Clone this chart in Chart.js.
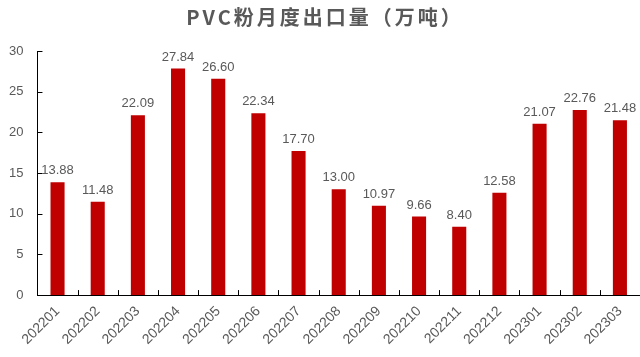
<!DOCTYPE html>
<html><head><meta charset="utf-8">
<script src="https://cdn.jsdelivr.net/npm/chart.js@4/dist/chart.umd.min.js"></script>
<style>html,body{margin:0;padding:0;background:#fff;}#wrap{width:640px;height:357px;}</style>
</head><body><div id="wrap"><canvas id="c" width="640" height="357"></canvas></div>
<script>
const categories = ["202201","202202","202203","202204","202205","202206","202207","202208","202209","202210","202211","202212","202301","202302","202303"];
const exportValues = [13.88,11.48,22.09,27.84,26.60,22.34,17.70,13.00,10.97,9.66,8.40,12.58,21.07,22.76,21.48];
const yTicks = [0,5,10,15,20,25,30];
const chartTitle = "PVC粉月度出口量（万吨）";

const innerTicks = {
  id:'innerTicks',
  afterDraw(chart){
    const ctx = chart.ctx, x = chart.scales.x, y = chart.scales.y;
    ctx.save();
    ctx.strokeStyle = '#000'; ctx.lineWidth = 1;
    ctx.beginPath();
    yTicks.forEach(v=>{ const py = Math.round(y.getPixelForValue(v))+0.5; ctx.moveTo(x.left, py); ctx.lineTo(x.left+5, py); });
    const half = (x.getPixelForValue(1)-x.getPixelForValue(0))/2;
    for(let i=0;i<=categories.length;i++){ const px = Math.round(x.getPixelForValue(i)-half)+0.5; ctx.moveTo(px, y.bottom); ctx.lineTo(px, y.bottom-5); }
    ctx.stroke();
    ctx.fillStyle = '#595959';
    ctx.font = '13px "Liberation Sans", sans-serif';
    ctx.textAlign = 'center'; ctx.textBaseline = 'bottom';
    const meta = chart.getDatasetMeta(0);
    meta.data.forEach((bar,i)=>{ ctx.fillText(exportValues[i].toFixed(2), bar.x, bar.y-5); });
    ctx.font = 'bold 20px "Noto Sans CJK SC"';
    ctx.letterSpacing = '3px';
    ctx.textBaseline = 'middle';
    ctx.fillText(chartTitle, 325, 17);
    ctx.restore();
  }
};

new Chart(document.getElementById('c'), {
  type:'bar',
  data:{labels:categories, datasets:[{data:exportValues, backgroundColor:'#C00000', barPercentage:0.7, categoryPercentage:0.5}]},
  options:{
    responsive:false, animation:false,
    layout:{padding:{left:-5,right:-9,top:51,bottom:1}},
    plugins:{legend:{display:false}, tooltip:{enabled:false}, title:{display:false}},
    scales:{
      x:{grid:{display:false, drawTicks:false}, border:{display:true,color:'#000',width:1},
        ticks:{color:'#595959', font:{family:'"Liberation Sans", sans-serif', size:14}, maxRotation:45, minRotation:45, padding:8}},
      y:{min:0,max:30, afterBuildTicks(s){ s.ticks = yTicks.map(v=>({value:v})); },
        grid:{display:false, drawTicks:false}, border:{display:true,color:'#000',width:1},
        ticks:{color:'#595959', font:{family:'"Liberation Sans", sans-serif', size:13}, padding:14}}
    }
  },
  plugins:[innerTicks]
});
</script></body></html>
